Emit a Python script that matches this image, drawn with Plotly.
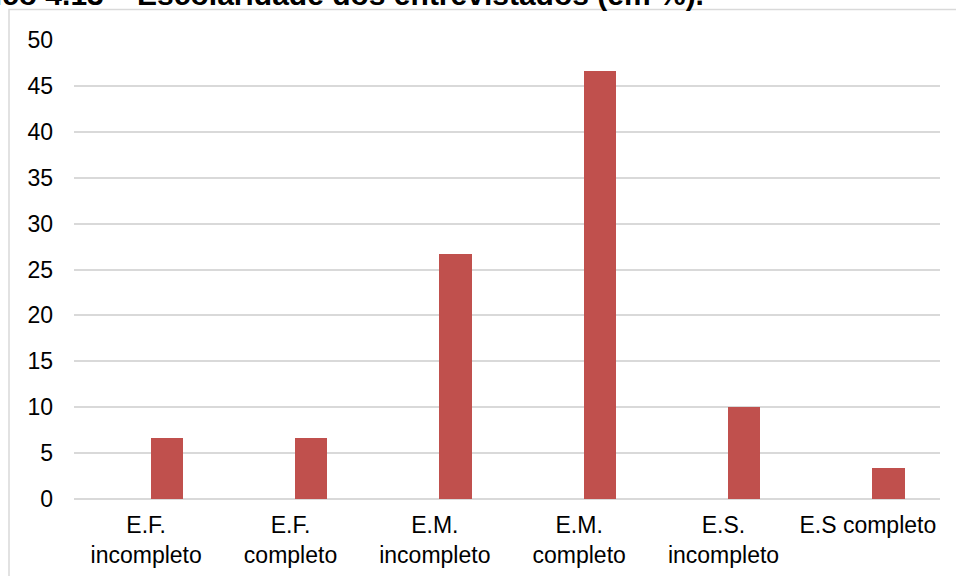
import plotly.graph_objects as go

# Escolaridade dos entrevistados, percentual por nível
categorias = [
    "E.F.<br>incompleto",
    "E.F.<br>completo",
    "E.M.<br>incompleto",
    "E.M.<br>completo",
    "E.S.<br>incompleto",
    "E.S completo",
]
percentuais = [6.67, 6.67, 26.67, 46.67, 10.0, 3.33]
ticks_y = [0, 5, 10, 15, 20, 25, 30, 35, 40, 45, 50]

titulo = "<b>Gráfico 4.13 – Escolaridade dos entrevistados (em %).</b>"

W, H = 956, 576
ML, MR, MT, MB = 74, 16, 39.5, 77.3
pw = W - ML - MR
ph = H - MT - MB

fonte = "Liberation Sans, Arial, sans-serif"

fig = go.Figure()
fig.add_trace(go.Bar(
    x=categorias,
    y=percentuais,
    width=0.224,
    offset=0.031,
    marker=dict(color="#C0504D", line=dict(width=0)),
))

# moldura do gráfico (canto superior esquerdo visível)
fig.add_shape(
    type="rect", xref="paper", yref="paper",
    x0=(9 - ML) / pw, x1=1.2,
    y0=-0.3, y1=1 + (MT - 9) / ph,
    line=dict(color="#D9D9D9", width=1.5),
    fillcolor="rgba(0,0,0,0)", layer="below",
)

fig.add_annotation(
    text=titulo, xref="paper", yref="paper",
    x=(706 - ML) / pw, y=1 + (MT - 12) / ph,
    xanchor="right", yanchor="bottom", showarrow=False,
    font=dict(family=fonte, size=30, color="#000000"),
)

fig.update_layout(
    width=W, height=H,
    margin=dict(l=ML, r=MR, t=MT, b=MB, pad=0),
    paper_bgcolor="white", plot_bgcolor="white",
    showlegend=False,
    font=dict(family=fonte, size=23, color="#000000"),
    bargap=0,
)
fig.update_xaxes(
    range=[-0.5, 5.5], showgrid=False, zeroline=False, showline=False,
    ticks="", ticklabelstandoff=10, automargin=False,
    tickfont=dict(family=fonte, size=23, color="#000000"),
)
fig.update_yaxes(
    range=[0, 50], tickvals=ticks_y, showgrid=True,
    gridcolor="#D9D9D9", gridwidth=1.5, zeroline=True,
    zerolinecolor="#D9D9D9", zerolinewidth=1.5, showline=False,
    ticks="", ticklabelstandoff=20, automargin=False,
    tickfont=dict(family=fonte, size=23, color="#000000"),
)

fig.write_html("out.html")
